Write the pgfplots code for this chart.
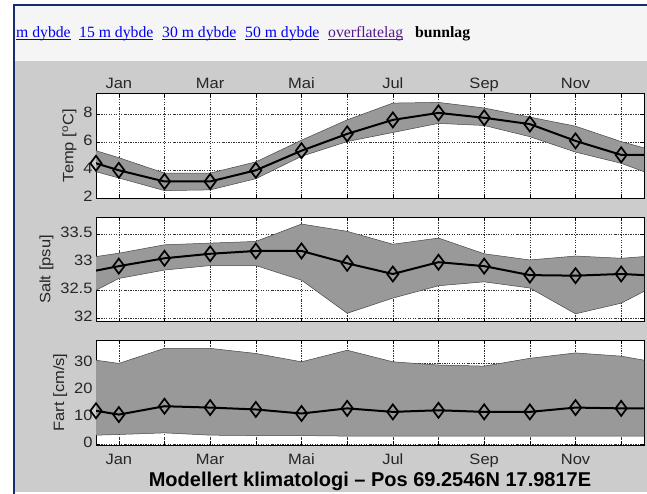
\documentclass[border=0pt]{standalone}
\usepackage{pgfplots}
\pgfplotsset{compat=1.18}
\usepackage{pgfplotstable}
\usepackage{fontspec}
\setmainfont{Liberation Sans}
\newfontfamily\axfont[FakeStretch=1.1]{Liberation Sans}
\newfontfamily\linkfont{Liberation Serif}

\definecolor{figbg}{RGB}{204,204,204}
\definecolor{strip}{RGB}{245,245,245}
\definecolor{frame}{RGB}{24,44,110}
\definecolor{bandgray}{RGB}{153,153,153}
\definecolor{bandedge}{RGB}{70,70,70}
\definecolor{linkblue}{RGB}{0,0,238}
\definecolor{linkvisited}{RGB}{85,26,139}

% monthly climatology; x = 0.5 and 12.5 are the panel edges
\pgfplotstableread{
x     mean   lo     hi
0.5   4.5    3.9    5.4
1     4.0    3.45   4.9
2     3.2    2.55   3.8
3     3.2    2.6    3.8
4     4.0    3.4    4.6
5     5.4    5.0    6.15
6     6.6    6.05   7.6
7     7.6    6.7    8.8
8     8.1    7.35   8.85
9     7.75   7.2    8.45
10    7.3    6.4    7.8
11    6.1    5.3    7.15
12    5.1    4.5    6.05
12.5  5.1    3.9    5.6
}\temptab

\pgfplotstableread{
x     mean   lo     hi
0.5   32.85  32.5   33.1
1     32.93  32.71  33.16
2     33.07  32.86  33.31
3     33.15  32.94  33.34
4     33.2   32.94  33.37
5     33.2   32.68  33.68
6     32.98  32.09  33.55
7     32.79  32.36  33.32
8     33.0   32.58  33.43
9     32.93  32.65  33.15
10    32.77  32.54  33.04
11    32.76  32.08  33.11
12    32.79  32.27  33.07
12.5  32.77  32.48  33.1
}\salttab

\pgfplotstableread{
x     mean   lo     hi
0.5   12.4   3.35   31.2
1     11.0   3.6    30.0
2     14.1   4.2    35.6
3     13.6   3.35   35.6
4     12.9   3.2    33.7
5     11.4   3.2    30.6
6     13.3   3.0    34.9
7     12.0   3.0    30.6
8     12.6   3.0    29.4
9     12.0   3.0    29.0
10    12.0   3.0    31.9
11    13.6   3.0    33.9
12    13.3   3.0    32.7
12.5  13.3   3.0    31.2
}\fartab

\pgfdeclarelayer{figbg}
\pgfplotsset{
  layers/panel layers/.define layer set={
    figbg,axis background,axis grid,pre main,main,axis ticks,axis lines,
    axis tick labels,axis descriptions,axis foreground}{},
  panel/.style={
    scale only axis, width=548pt, height=105pt,
    anchor=south west,
    xmin=0.5, xmax=12.5,
    xtick={1,...,12},
    tick align=inside, tick pos=both,
    major tick length=4pt,
    grid=major,
    grid style={black!80, line width=0.5pt,
      dash pattern=on 1.6pt off 1.4pt on 0.5pt off 1.4pt},
    axis line style={black, line width=0.9pt},
    every tick/.style={black, line width=0.6pt},
    axis background/.style={fill=white},
    typeset ticklabels with strut,
    tick label style={font=\axfont\fontsize{15}{16}\selectfont, text=black!85},
    ylabel style={font=\axfont\fontsize{15}{16}\selectfont, text=black!85},
    /pgf/number format/assume math mode=true,
  },
  bandedge/.style={draw=bandedge, line width=0.5pt},
  meanline/.style={black, line width=2pt},
  meanmarks/.style={only marks, mark=diamond, mark size=7.5pt,
    mark options={black, line width=1.7pt}},
}

% one panel's plots: spread band (lower edge stacked with the band
% height), band edges, mean line, markers
% #1 = table, #2 = x range that carries markers
\newcommand\climplots[2]{%
  \addplot[draw=none, stack plots=y, forget plot] table[x=x,y=lo]{#1};
  \addplot[fill=bandgray, draw=none, stack plots=y, forget plot]
    table[x=x,y expr=\thisrow{hi}-\thisrow{lo}]{#1} \closedcycle;
  \addplot[bandedge] table[x=x,y=hi]{#1};
  \addplot[bandedge] table[x=x,y=lo]{#1};
  \addplot[meanline] table[x=x,y=mean]{#1};
  \addplot[meanmarks, restrict x to domain=#2] table[x=x,y=mean]{#1};
}

\newlength\ulw
\newcommand\lnk[2]{\settowidth\ulw{#2}\textcolor{#1}{\rlap{\rule[-2.2pt]{\ulw}{0.9pt}}#2}}

\begin{document}
\begin{tikzpicture}
\pgfplotsset{set layers=panel layers}
\begin{pgfonlayer}{figbg}
  \fill[white] (0pt,0pt) rectangle (647pt,494pt);
  \fill[strip] (14pt,433pt) rectangle (647pt,489pt);
  \fill[figbg] (14pt,2pt) rectangle (647pt,433pt);
  \draw[frame, line width=2pt] (13pt,488.5pt) -- (647pt,488.5pt);
  \draw[frame, line width=2pt] (14pt,0pt) -- (14pt,489.5pt);
\end{pgfonlayer}

% page navigation links
\begin{scope}[every node/.style={anchor=base west, inner sep=0pt,
    font=\linkfont\fontsize{15.7}{17}\selectfont}]
  \node at (16pt,456.5pt)  {\lnk{linkblue}{m dybde}};
  \node at (79pt,456.5pt)  {\lnk{linkblue}{15 m dybde}};
  \node at (162pt,456.5pt) {\lnk{linkblue}{30 m dybde}};
  \node at (245pt,456.5pt) {\lnk{linkblue}{50 m dybde}};
  \node at (328pt,456.5pt) {\lnk{linkvisited}{overflatelag}};
  \node at (415pt,456.5pt) {\textbf{bunnlag}};
\end{scope}

% temperature
\begin{axis}[panel, at={(96pt,295.7pt)},
  ymin=2, ymax=9.5, ytick={2,4,6,8},
  xticklabel pos=upper,
  xticklabel style={yshift=-4pt},
  xticklabels={Jan,,Mar,,Mai,,Jul,,Sep,,Nov,},
  ylabel={Temp [\textsuperscript{o}C]}]
  \climplots{\temptab}{0:12.2}
\end{axis}

% salinity
\begin{axis}[panel, at={(96pt,172.3pt)}, height=104.4pt,
  ymin=31.94, ymax=33.8, ytick={32,32.5,33,33.5},
  xticklabels={},
  ylabel={Salt [psu]}]
  \climplots{\salttab}{0.9:12.2}
\end{axis}

% current speed
\begin{axis}[panel, at={(96pt,49pt)},
  ymin=-0.3, ymax=38.7, ytick={0,10,20,30},
  xticklabel pos=lower,
  xticklabel style={yshift=-5pt},
  xticklabels={Jan,,Mar,,Mai,,Jul,,Sep,,Nov,},
  ylabel={Fart [cm/s]},
  xlabel={Modellert klimatologi -- Pos 69.2546N 17.9817E},
  xlabel style={yshift=4pt, font=\bfseries\fontsize{20}{21}\selectfont, text=black}]
  \climplots{\fartab}{0:12.2}
\end{axis}

\pgfresetboundingbox
\useasboundingbox (0pt,0pt) rectangle (647pt,494pt);
\end{tikzpicture}
\end{document}
